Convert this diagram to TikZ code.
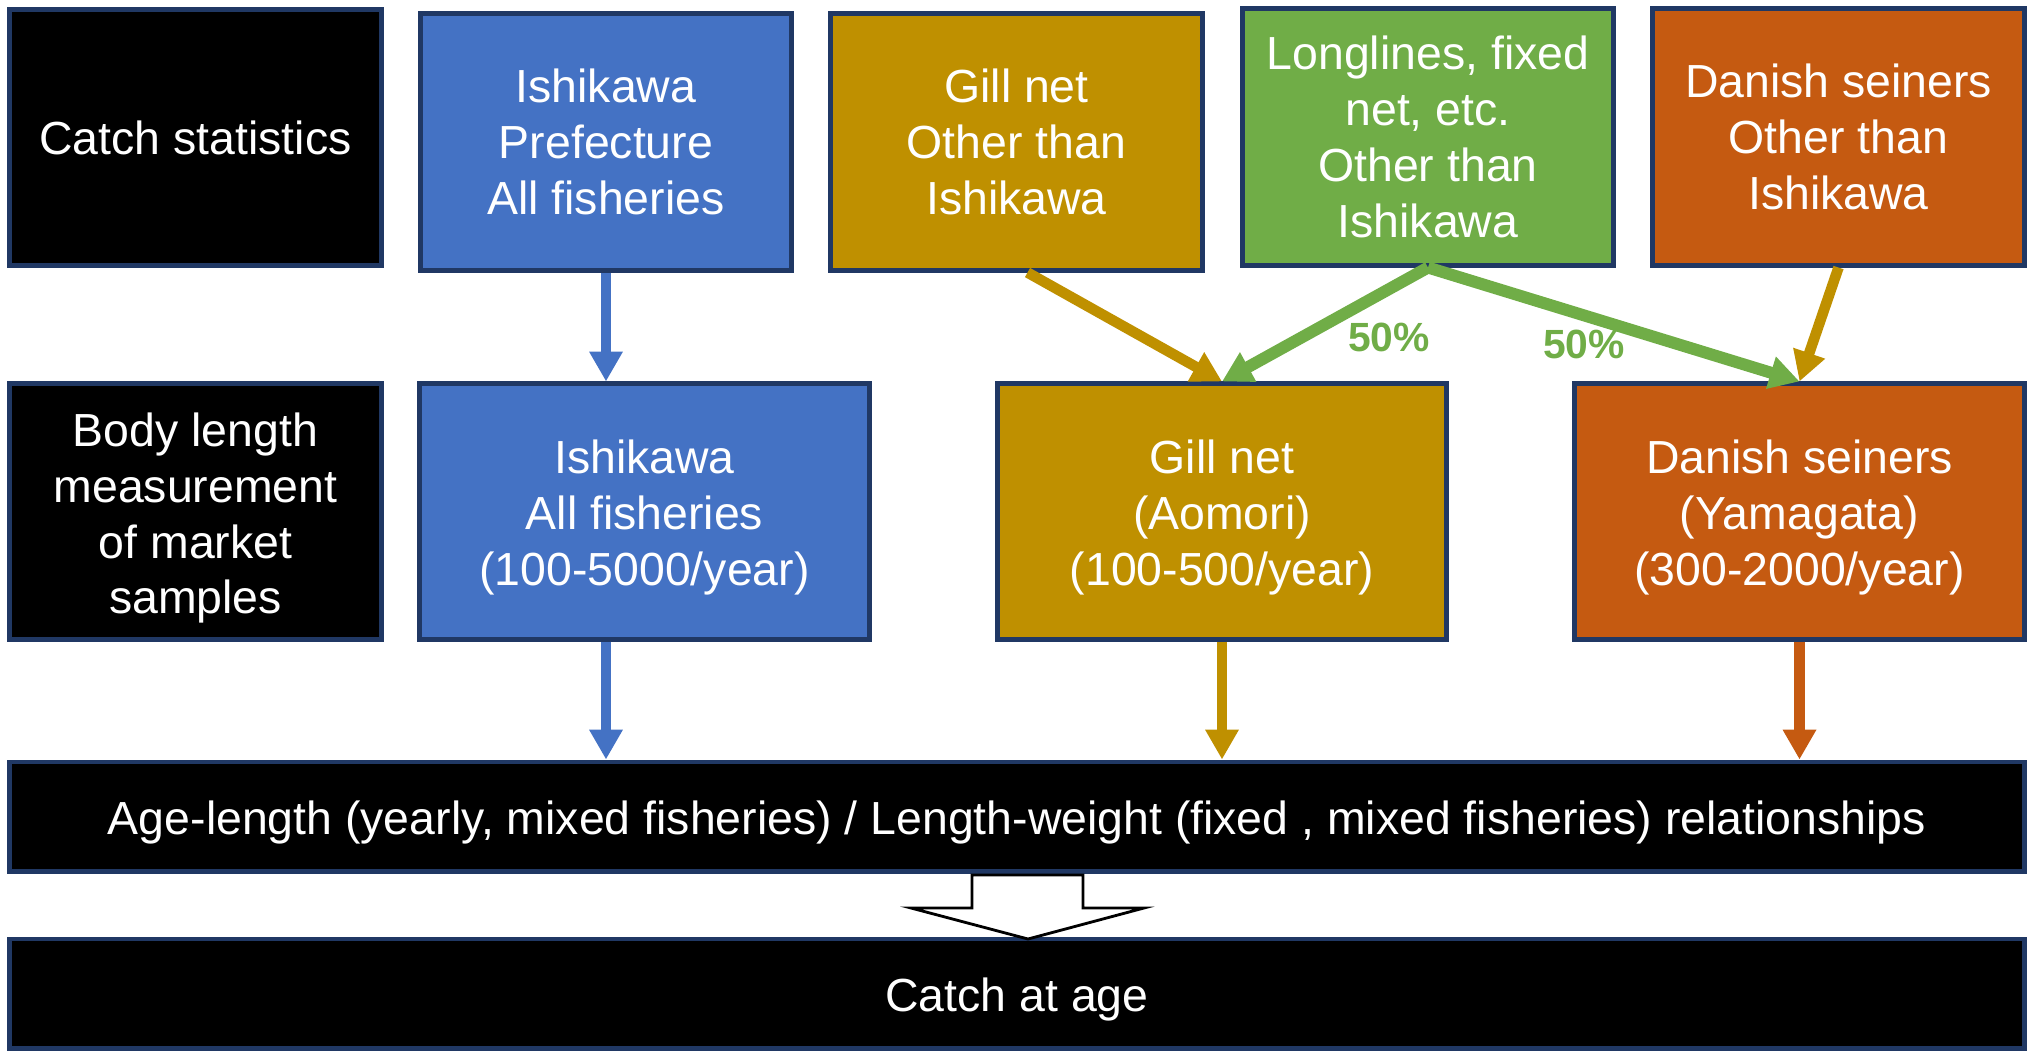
\documentclass[tikz,border=0pt]{standalone}
\usepackage{fontspec}
\setmainfont{Liberation Sans}
\usetikzlibrary{arrows.meta}

\definecolor{boxblue}{HTML}{4472C4}
\definecolor{boxgold}{HTML}{BF9000}
\definecolor{boxgreen}{HTML}{70AD47}
\definecolor{boxorange}{HTML}{C55A11}
\definecolor{boxedge}{HTML}{203864}

\tikzset{
  box/.style={draw=boxedge, line width=1.4pt, text=white, align=center,
    inner sep=0pt, font=\fontsize{13.2}{15.9}\selectfont},
  smallbox/.style={box, minimum width=3.71cm, minimum height=2.56cm},
  widebox/.style={box, minimum width=4.49cm, minimum height=2.55cm, text height=45pt},
  barbox/.style={box, fill=black, minimum width=20.14cm, minimum height=1.09cm,
    execute at begin node={\rule{0pt}{13.2pt}}},
  flow/.style={line width=3pt, -{Triangle[length=8.5pt,width=9pt]}},
  share/.style={text=boxgreen, font=\fontsize{11.6}{14}\selectfont\bfseries}
}

\begin{document}
\begin{tikzpicture}[x=0.01cm, y=-0.01cm]
  \useasboundingbox (0,0) rectangle (2033,1057);

  % Top row: catch statistics
  \node[smallbox, fill=black] (stat) at (195.5,137.5) {Catch statistics};
  \node[smallbox, fill=boxblue] (ishipref) at (606,142) {Ishikawa\\Prefecture\\All fisheries};
  \node[smallbox, fill=boxgold] (gillo) at (1016.5,142) {Gill net\\Other than\\Ishikawa};
  \node[smallbox, fill=boxgreen] (longl) at (1428,137) {Longlines, fixed\\net, etc.\\Other than\\Ishikawa};
  \node[smallbox, fill=boxorange] (danisho) at (1838.5,137) {Danish seiners\\Other than\\Ishikawa};

  % Middle row: length measurements
  \node[smallbox, fill=black, minimum height=2.55cm, text height=61pt] (body) at (195.5,511.5) {Body length\\measurement\\of market\\samples};
  \node[widebox, fill=boxblue] (ishiall) at (644.5,511.5) {Ishikawa\\All fisheries\\(100-5000/year)};
  \node[widebox, fill=boxgold] (aomori) at (1222,511.5) {Gill net\\(Aomori)\\(100-500/year)};
  \node[widebox, fill=boxorange] (yamagata) at (1799.5,511.5) {Danish seiners\\(Yamagata)\\(300-2000/year)};

  % Bottom bars
  \node[barbox] (agebar) at (1017,816.5) {Age-length (yearly, mixed fisheries) / Length-weight (fixed , mixed fisheries) relationships};
  \node[barbox] (catch) at (1017,993.5) {Catch at age};

  % Arrows between rows
  \draw[flow, boxblue] (ishipref.south) -- (ishipref.south |- ishiall.north);
  \draw[flow, boxgold] ([xshift=0.11cm]gillo.south) -- (aomori.north);
  \draw[flow, boxgreen, line width=3.4pt] (longl.south) -- (aomori.north);
  \draw[flow, boxgreen, line width=3.4pt] (longl.south) -- (yamagata.north);
  \draw[flow, boxgold] (danisho.south) -- (yamagata.north);
  \node[share] (shareA) at (1389,337) {50\%};
  \node[share] (shareB) at (1584,344) {50\%};

  \draw[flow, boxblue] (ishipref.south |- ishiall.south) -- (ishipref.south |- agebar.north);
  \draw[flow, boxgold] (aomori.south) -- (aomori.south |- agebar.north);
  \draw[flow, boxorange] (yamagata.south) -- (yamagata.south |- agebar.north);

  % Block arrow to catch at age
  \draw[line width=0.8pt, fill=white, line join=miter]
    (972,875) -- (1083,875) -- (1083,908) -- (1144,908) -- (1028,939)
    -- (911,908) -- (972,908) -- cycle;
\end{tikzpicture}
\end{document}
